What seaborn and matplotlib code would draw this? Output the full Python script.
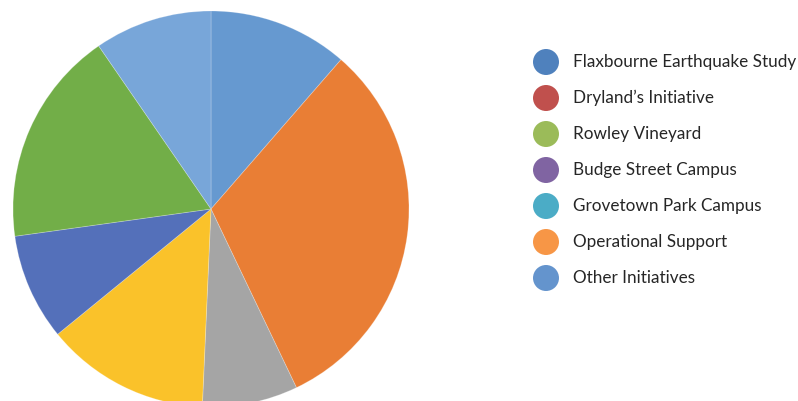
import matplotlib
matplotlib.use("Agg")
import matplotlib.pyplot as plt
import seaborn as sns

# Slice shares, clockwise from 12 o'clock
slice_values = [11.4, 31.5, 7.8, 13.4, 8.7, 17.6, 9.6]
slice_colors = ["#6699D0", "#E97E35", "#A5A5A5", "#FAC22A", "#5470BA", "#72AE48", "#78A6D9"]

# Legend entries
legend_labels = [
    "Flaxbourne Earthquake Study",
    "Dryland\u2019s Initiative",
    "Rowley Vineyard",
    "Budge Street Campus",
    "Grovetown Park Campus",
    "Operational Support",
    "Other Initiatives",
]
legend_colors = ["#4F81BD", "#C0504D", "#9BBB59", "#8064A2", "#4BACC6", "#F79646", "#6494CD"]

sns.set_theme(style="white")
plt.rcParams["font.family"] = ["Lato", "DejaVu Sans"]

W, H = 798, 401
fig = plt.figure(figsize=(W / 100, H / 100), dpi=100)
ax = fig.add_axes([0, 0, 1, 1])

ax.pie(
    slice_values,
    colors=slice_colors,
    startangle=90,
    counterclock=False,
    center=(211, H - 209),
    radius=198,
    wedgeprops=dict(linewidth=0.6, edgecolor=(1, 1, 1, 0.25)),
)
ax.set_xlim(0, W)
ax.set_ylim(0, H)
ax.set_aspect("auto")
ax.axis("off")

# Legend: round swatches with labels
y0, step = 62, 36
for i, (lab, col) in enumerate(zip(legend_labels, legend_colors)):
    y = H - (y0 + i * step)
    ax.scatter([546], [y], s=(26 * 72 / 100) ** 2, color=col, edgecolor="none", zorder=3)
    ax.text(573, y, lab, fontsize=12.3, color="#262626", va="center", ha="left")

fig.savefig("out.png", dpi=100)
